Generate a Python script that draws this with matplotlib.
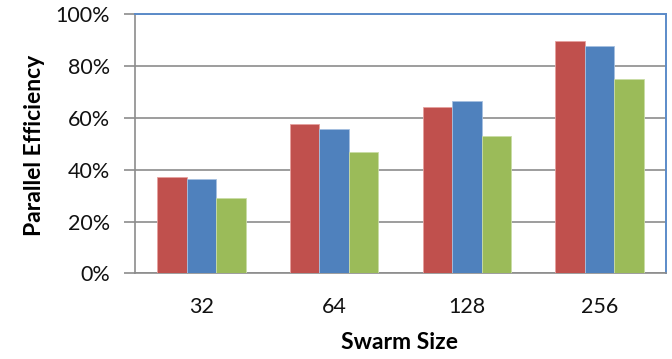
import matplotlib.pyplot as plt
import numpy as np
from matplotlib.ticker import PercentFormatter

plt.rcParams['font.family'] = ['Lato', 'DejaVu Sans']

# Parallel efficiency (%) per swarm size, three runs
swarm_sizes = ['32', '64', '128', '256']
series_red = [37.3, 57.6, 64.2, 89.6]
series_blue = [36.3, 55.7, 66.5, 87.7]
series_green = [29.2, 46.7, 53.0, 75.0]

colors = ['#C0504D', '#4F81BD', '#9BBB59']
edges = ['#E6A09E', '#A5C0E0', '#C9DCA6']

fig = plt.figure(figsize=(6.72, 3.59), dpi=100)
ax = fig.add_axes([0.2009, 0.2382, 0.7902, 0.7228])

x = np.arange(len(swarm_sizes))
width = 0.222
for i, (vals, c, e) in enumerate(zip([series_red, series_blue, series_green], colors, edges)):
    ax.bar(x + (i - 1) * width, vals, width, color=c, edgecolor=e,
           linewidth=0.6, zorder=3)

ax.set_xlim(-0.5, len(swarm_sizes) - 0.5)
ax.set_ylim(0, 100)
ax.set_yticks(np.arange(0, 101, 20))
ax.yaxis.set_major_formatter(PercentFormatter(decimals=0))
ax.set_xticks(x)
ax.set_xticklabels(swarm_sizes)

# Gridlines and axes styling
ax.grid(axis='y', color='#8C8C8C', linewidth=1.2, zorder=0)
ax.set_axisbelow(True)
for side in ['left', 'bottom']:
    ax.spines[side].set_color('#8C8C8C')
    ax.spines[side].set_linewidth(1.2)
for side in ['top', 'right']:
    ax.spines[side].set_color('#5B8BC9')
    ax.spines[side].set_linewidth(1.4)

ax.tick_params(axis='y', direction='out', length=8, width=1.2, color='#8C8C8C',
               pad=10, labelsize=15.5, labelcolor='#111111')
ax.tick_params(axis='x', length=0, pad=17, labelsize=15.5, labelcolor='#111111')

ax.set_ylabel('Parallel Efficiency', fontsize=16.5, fontweight='bold')
ax.set_xlabel('Swarm Size', fontsize=16.5, fontweight='bold')
ax.yaxis.set_label_coords(-0.1695, 0.495)
ax.xaxis.set_label_coords(0.499, -0.225)

fig.savefig('out.png', dpi=100)
